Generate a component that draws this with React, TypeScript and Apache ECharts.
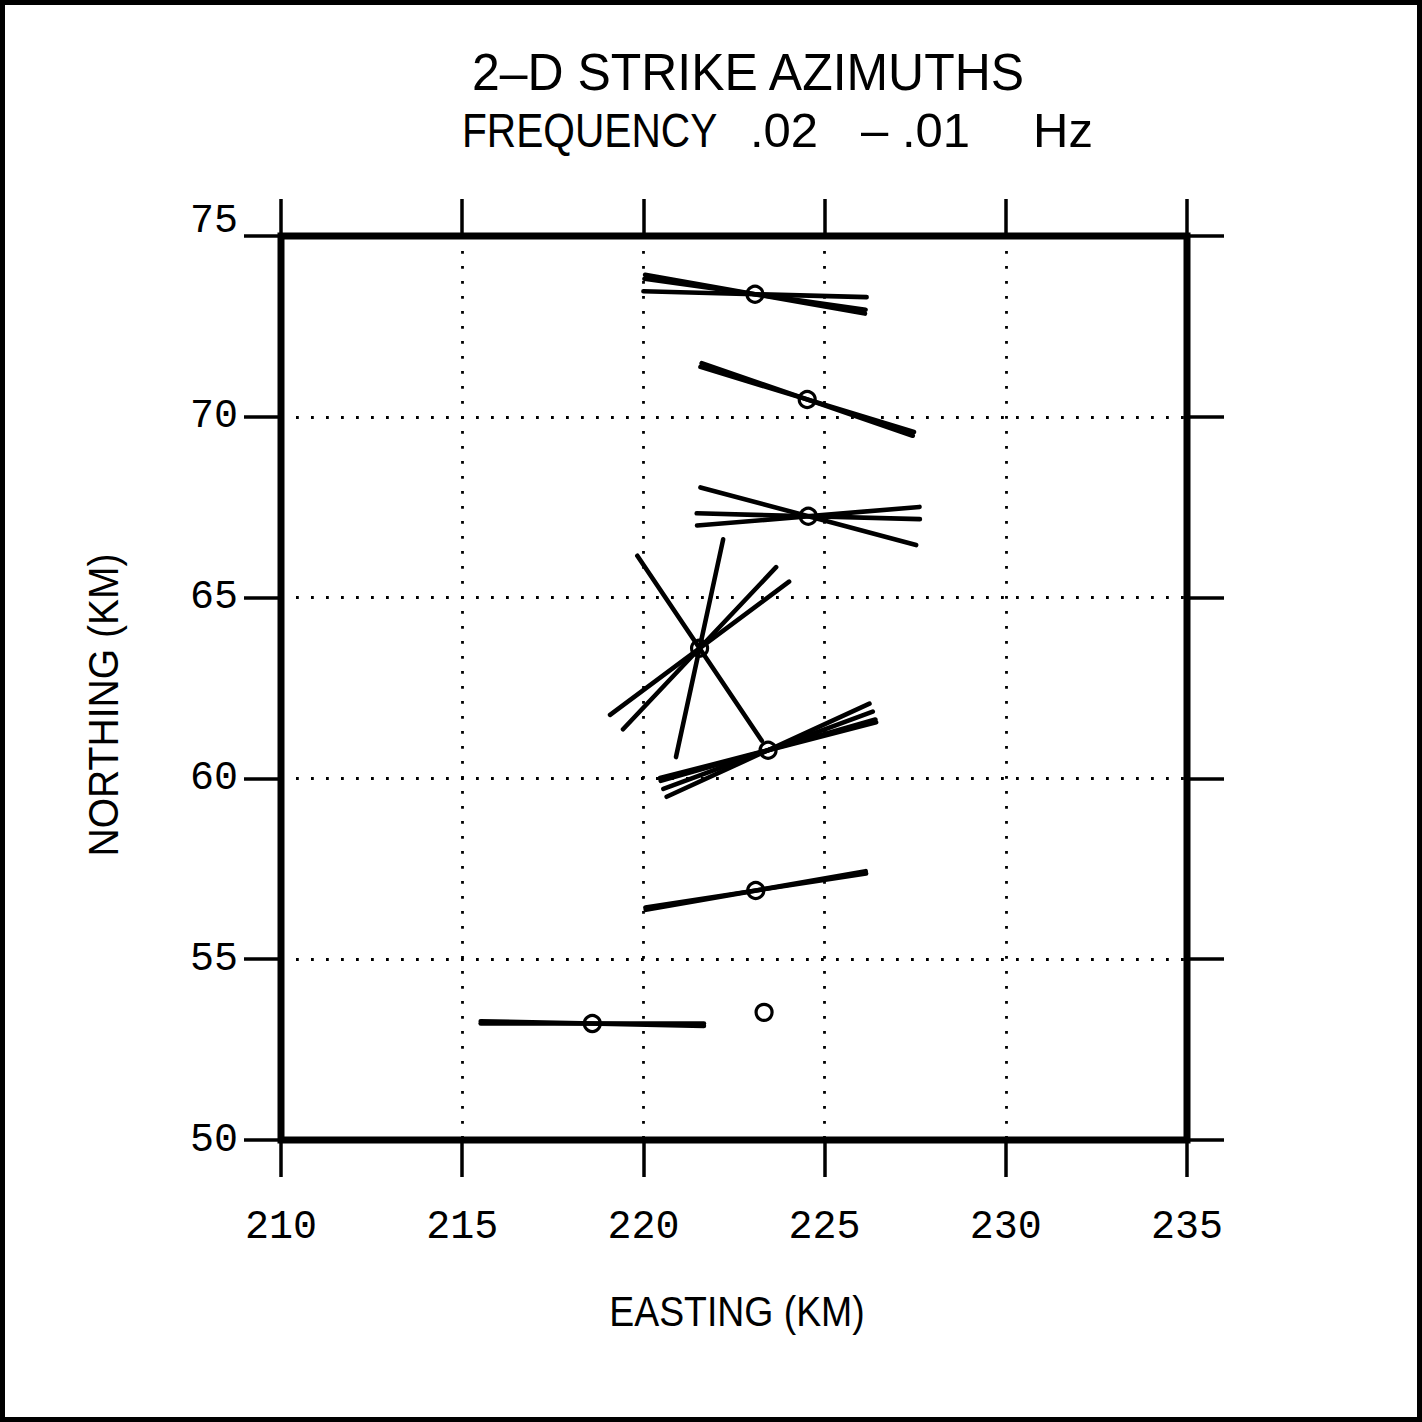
import React, { useEffect, useRef } from "react";
import * as echarts from "echarts";

// Station positions (km) and the strike azimuths (degrees clockwise from north) measured at each
const stationEasting = [223.08, 224.52, 224.55, 221.55, 223.44, 223.1, 218.59, 223.33];
const stationNorthing = [73.39, 70.48, 67.25, 63.6, 60.78, 56.9, 53.22, 53.53];
const strikeAzimuths: number[][] = [
  [98, 100, 91.5],
  [107, 109],
  [105, 91.5, 85.2],
  [146.1, 12.2, 43.3, 53.3],
  [65.3, 69.7, 74, 75.5],
  [80, 81.2],
  [90, 91.2],
  [],
];
// Half length of each strike bar, km
const strikeHalfLength = 3.08;

const eastingTicks = { min: 210, max: 235, step: 5 };
const northingTicks = { min: 50, max: 75, step: 5 };

const MONO = '"Liberation Mono", "DejaVu Sans Mono", monospace';
const SANS = '"Liberation Sans", Arial, sans-serif';

function strikeSegments() {
  const segs: { coords: number[][] }[] = [];
  stationEasting.forEach((e, i) => {
    const n = stationNorthing[i];
    strikeAzimuths[i].forEach((az) => {
      const r = (az * Math.PI) / 180;
      const de = strikeHalfLength * Math.sin(r);
      const dn = strikeHalfLength * Math.cos(r);
      segs.push({ coords: [[e - de, n - dn], [e + de, n + dn]] });
    });
  });
  return segs;
}

export default function App() {
  const ref = useRef<HTMLDivElement>(null);

  useEffect(() => {
    document.body.style.margin = "0";
    if (!ref.current) return;
    const chart = echarts.init(ref.current, null, { renderer: "svg" });

    const tickStyle = { show: true, inside: false, length: 37, lineStyle: { color: "#000", width: 3.5 } };
    const dotted = { show: true, lineStyle: { color: "#000", width: 2.8, type: [2.8, 12.2] as any } };

    chart.setOption({
      animation: false,
      backgroundColor: "#fff",
      grid: {
        left: 281,
        top: 236,
        width: 906,
        height: 904,
        show: true,
        borderColor: "#000",
        borderWidth: 7,
        backgroundColor: "transparent",
      },
      xAxis: [
        {
          type: "value",
          position: "bottom",
          min: eastingTicks.min,
          max: eastingTicks.max,
          interval: eastingTicks.step,
          axisLine: { show: false },
          axisTick: tickStyle,
          splitLine: dotted,
          axisLabel: { fontFamily: MONO, fontSize: 40, color: "#000", margin: 67 },
        },
        {
          type: "value",
          position: "top",
          min: eastingTicks.min,
          max: eastingTicks.max,
          interval: eastingTicks.step,
          axisLine: { show: false },
          axisTick: tickStyle,
          splitLine: { show: false },
          axisLabel: { show: false },
        },
      ],
      yAxis: [
        {
          type: "value",
          position: "left",
          min: northingTicks.min,
          max: northingTicks.max,
          interval: northingTicks.step,
          axisLine: { show: false },
          axisTick: tickStyle,
          splitLine: dotted,
          axisLabel: {
            fontFamily: MONO,
            fontSize: 40,
            color: "#000",
            margin: 43,
            formatter: (v: number) => (v === northingTicks.max ? `{raised|${v}}` : `${v}`),
            rich: {
              raised: { fontFamily: MONO, fontSize: 40, color: "#000", padding: [0, 0, 30, 0] },
            },
          },
        },
        {
          type: "value",
          position: "right",
          min: northingTicks.min,
          max: northingTicks.max,
          interval: northingTicks.step,
          axisLine: { show: false },
          axisTick: tickStyle,
          splitLine: { show: false },
          axisLabel: { show: false },
        },
      ],
      series: [
        {
          type: "lines",
          coordinateSystem: "cartesian2d",
          xAxisIndex: 0,
          yAxisIndex: 0,
          polyline: false,
          silent: true,
          z: 2,
          lineStyle: { color: "#000", width: 4.6, opacity: 1, cap: "round" },
          data: strikeSegments(),
        },
        {
          type: "scatter",
          xAxisIndex: 0,
          yAxisIndex: 0,
          symbol: "circle",
          symbolSize: 16,
          z: 3,
          itemStyle: { color: "rgba(0,0,0,0)", borderColor: "#000", borderWidth: 3.2, opacity: 1 },
          data: stationEasting.map((e, i) => [e, stationNorthing[i]]),
        },
      ],
      graphic: [
        {
          type: "rect",
          silent: true,
          shape: { x: 2.5, y: 2.5, width: 1417, height: 1417 },
          style: { fill: "none", stroke: "#000", lineWidth: 5 },
        },
        {
          type: "text",
          x: 748,
          y: 72,
          scaleX: 0.96,
          style: { text: "2–D STRIKE AZIMUTHS", font: `52px ${SANS}`, fill: "#000", align: "center", verticalAlign: "middle" },
        },
        {
          type: "text",
          x: 462,
          y: 130,
          scaleX: 0.83,
          style: { text: "FREQUENCY", font: `49px ${SANS}`, fill: "#000", align: "left", verticalAlign: "middle" },
        },
        {
          type: "text",
          x: 750,
          y: 130,
          style: { text: ".02", font: `49px ${SANS}`, fill: "#000", align: "left", verticalAlign: "middle" },
        },
        {
          type: "text",
          x: 861,
          y: 130,
          style: { text: "–", font: `49px ${SANS}`, fill: "#000", align: "left", verticalAlign: "middle" },
        },
        {
          type: "text",
          x: 902,
          y: 130,
          style: { text: ".01", font: `49px ${SANS}`, fill: "#000", align: "left", verticalAlign: "middle" },
        },
        {
          type: "text",
          x: 1033,
          y: 130,
          style: { text: "Hz", font: `49px ${SANS}`, fill: "#000", align: "left", verticalAlign: "middle" },
        },
        {
          type: "text",
          x: 737,
          y: 1311,
          scaleX: 0.89,
          style: { text: "EASTING (KM)", font: `42px ${SANS}`, fill: "#000", align: "center", verticalAlign: "middle" },
        },
        {
          type: "text",
          x: 104,
          y: 705,
          rotation: Math.PI / 2,
          scaleX: 0.93,
          style: { text: "NORTHING (KM)", font: `42px ${SANS}`, fill: "#000", align: "center", verticalAlign: "middle" },
        },
      ],
    });

    return () => chart.dispose();
  }, []);

  return <div ref={ref} style={{ width: 1422, height: 1422, background: "#fff" }} />;
}
